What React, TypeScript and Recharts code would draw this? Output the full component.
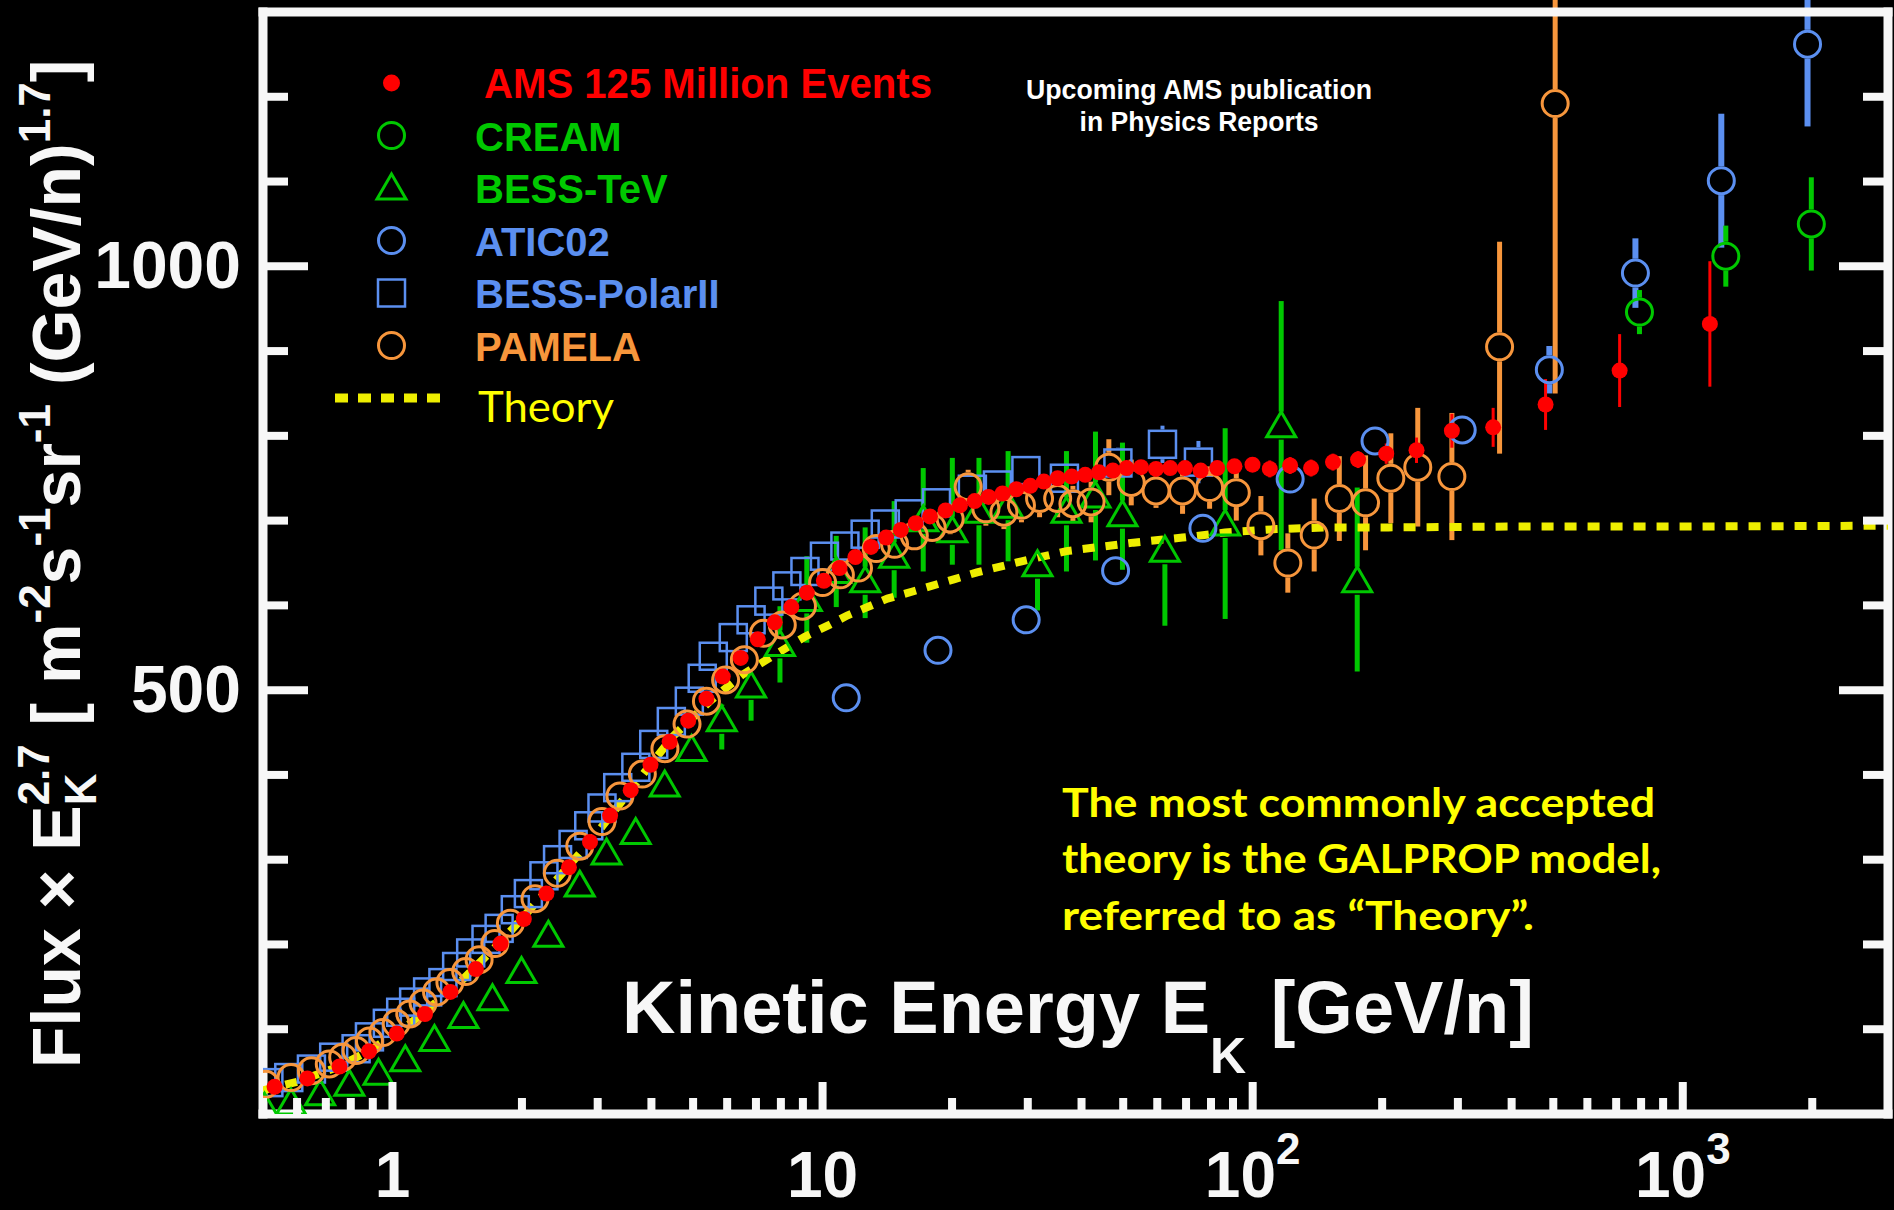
import React from "react";
import { ScatterChart, Scatter, XAxis, YAxis, ErrorBar, Legend, Customized } from "recharts";

const FONT = '"Liberation Sans", Arial, Helvetica, sans-serif';
const SLIDE_FONT = 'Lato, "Open Sans", sans-serif';
const WHITE = "#f7f7f7";
const RED = "#ff0000";
const GREEN = "#00c800";
const BLUE = "#5b8ff0";
const ORANGE = "#f7963c";
const YELLOW = "#ffff00";
const THEORY = "#eeee00";

// values: E in GeV/n, y = flux x E^2.7

// AMS 125 million events
const amsE = [0.532, 0.634, 0.753, 0.882, 1.023, 1.19, 1.364, 1.563, 1.783, 2.02, 2.28, 2.572, 2.879, 3.206, 3.58, 3.98, 4.41, 4.87, 5.37, 5.86, 6.45, 7.07, 7.74, 8.46, 9.19, 10.07, 10.95, 11.92, 12.96, 14.05, 15.2, 16.46, 17.77, 19.32, 20.86, 22.58, 24.32, 26.2, 28.2, 30.4, 32.7, 35.2, 37.95, 40.8, 43.9, 47.3, 50.9, 55.0, 59.6, 64.3, 69.6, 75.7, 82.7, 90.7, 99.9, 109.6, 122.2, 136.7, 153.7, 175.8, 204.4, 240.4, 290.5, 362.3, 479.7, 713.1, 1156];
const amsV = [32, 42, 56, 74, 95, 118, 144, 171, 201, 230, 260, 291, 321, 352, 382, 412, 439, 464, 490, 516, 538, 560, 580, 598, 615, 629, 644, 657, 669, 680, 689, 697, 705, 712, 718, 723, 728, 732, 737, 741, 746, 750, 752, 754, 757, 759, 762, 763, 761, 762, 762, 759, 762, 764, 766, 761, 765, 762, 769, 772, 779, 783, 806, 810, 837, 877, 932];
const amsErr = [2, 2, 2, 2, 2, 2, 2, 2, 2, 2, 2, 2, 2, 2, 2, 2, 2, 2, 2, 2, 2, 2, 2, 2, 2, 4, 4, 4, 4, 4, 4, 4, 4, 4, 4, 4, 4, 4, 4, 4, 4, 4, 4, 7, 7, 7, 7, 7, 7, 7, 7, 7, 7, 7, 7, 10, 10, 10, 10, 10, 12, 15, 20, 23, 30, 43, 74];

// CREAM
const creamE = [793, 1259, 1990];
const creamV = [946, 1012, 1050];
const creamErr = [26, 36, 55];

// BESS-TeV
const bessTevE = [0.504, 0.581, 0.679, 0.794, 0.928, 1.071, 1.252, 1.462, 1.708, 1.995, 2.304, 2.725, 3.146, 3.677, 4.295, 4.96, 5.83, 6.82, 7.96, 9.19, 10.76, 12.56, 14.67, 17.14, 20.03, 23.1, 27.0, 31.6, 36.9, 43.1, 49.8, 62.5, 86.3, 116.5, 175];
const bessTevV = [8, 13, 24, 35, 48, 64, 88, 115, 136, 168, 211, 270, 308, 332, 388, 430, 465, 505, 554, 607, 640, 629, 658, 701, 688, 711, 717, 648, 711, 729, 707, 665, 696, 812, 629];
const bessTevLo = [2, 2, 2, 2, 2, 2, 3, 3, 3, 3, 4, 5, 8, 10, 10, 13, 35, 41, 45, 51, 42, 44, 49, 61, 40, 63, 65, 54, 71, 76, 65, 89, 112, 147, 107];
const bessTevHi = [2, 2, 2, 2, 2, 2, 3, 3, 3, 3, 4, 5, 8, 10, 10, 13, 18, 16, 45, 51, 42, 63, 65, 61, 86, 63, 65, 12, 71, 76, 85, 14, 113, 147, 110];

// ATIC02
const aticE = [11.35, 18.55, 29.74, 48.0, 76.6, 122.2, 192.5, 307, 489.5, 776, 1229, 1950];
const aticV = [491, 547, 583, 641, 691, 749, 794, 807, 878, 992, 1101, 1262];
const aticErr = [3, 4, 5, 7, 9, 11, 13, 15, 28, 41, 79, 97];

// BESS-PolarII
const bessPolarE = [0.516, 0.574, 0.648, 0.73, 0.823, 0.884, 0.973, 1.045, 1.12, 1.207, 1.31, 1.41, 1.52, 1.65, 1.77, 1.93, 2.07, 2.25, 2.42, 2.63, 2.86, 3.07, 3.34, 3.68, 4.05, 4.45, 4.9, 5.25, 5.57, 6.2, 6.82, 7.5, 8.26, 9.1, 10.1, 11.27, 12.56, 13.99, 15.9, 18.4, 22.3, 25.5, 29.7, 36.5, 48.6, 61.7, 74.8];
const bessPolarV = [37, 43, 53, 67, 77, 91, 107, 120, 132, 144, 155, 174, 190, 206, 219, 241, 260, 281, 300, 318, 340, 361, 385, 409, 436, 463, 487, 514, 540, 562, 583, 605, 623, 640, 658, 670, 684, 696, 708, 721, 737, 742, 759, 750, 768, 790, 769];
const bessPolarErr = [3, 3, 3, 3, 3, 3, 3, 3, 3, 3, 3, 3, 3, 3, 3, 3, 3, 3, 3, 3, 3, 3, 3, 3, 3, 3, 3, 3, 3, 3, 3, 3, 3, 3, 5, 5, 5, 5, 5, 5, 8, 8, 10, 15, 18, 22, 25];

// PAMELA
const pamelaE = [0.507, 0.581, 0.648, 0.713, 0.766, 0.823, 0.884, 0.95, 1.02, 1.097, 1.178, 1.266, 1.36, 1.48, 1.59, 1.73, 1.88, 2.145, 2.417, 2.725, 3.07, 3.38, 3.81, 4.3, 4.84, 5.37, 5.95, 6.58, 7.29, 8.06, 8.98, 10.0, 11.0, 12.12, 13.33, 14.7, 16.34, 17.98, 19.8, 21.8, 23.97, 26.4, 29.0, 31.95, 35.2, 38.2, 42.1, 46.3, 52.2, 59.6, 68.7, 79.4, 91.6, 104.5, 120.7, 139, 159, 183, 209.5, 242, 290.5, 375, 505];
const pamelaV = [35, 43, 51, 59, 67, 75, 86, 96, 107, 118, 131, 144, 155, 168, 182, 201, 225, 254, 284, 316, 345, 375, 401, 431, 460, 487, 512, 536, 567, 577, 599, 627, 636, 644, 667, 672, 682, 692, 702, 740, 714, 710, 718, 726, 726, 720, 722, 763, 745, 735, 735, 739, 733, 694, 650, 683, 726, 721, 750, 763, 752, 905, 1192];
const pamelaLo = [3, 3, 3, 3, 3, 3, 3, 3, 3, 3, 3, 3, 3, 3, 3, 3, 3, 3, 3, 3, 3, 3, 3, 3, 3, 3, 3, 3, 3, 3, 6, 8, 10, 10, 12, 12, 14, 15, 18, 20, 20, 20, 20, 22, 22, 21, 24, 33, 27, 20, 27, 25, 33, 35, 35, 43, 50, 56, 53, 70, 75, 126, 342];
const pamelaHi = [3, 3, 3, 3, 3, 3, 3, 3, 3, 3, 3, 3, 3, 3, 3, 3, 3, 3, 3, 3, 3, 3, 3, 3, 3, 3, 3, 3, 3, 3, 6, 8, 10, 10, 12, 12, 14, 15, 18, 20, 20, 20, 20, 22, 22, 21, 24, 33, 27, 20, 27, 25, 33, 35, 35, 43, 50, 56, 53, 70, 75, 124, 150];

// GALPROP "Theory"
const theoryE = [0.5, 0.6, 0.75, 0.9, 1.1, 1.4, 1.8, 2.3, 2.9, 3.6, 4.5, 5.5, 6.5, 7.42, 9.09, 10.37, 11.41, 14.15, 16.34, 20.28, 22.86, 29.03, 36.9, 52.8, 68.7, 86.3, 113.7, 148, 206.9, 400, 1000, 3000];
const theoryV = [28, 38, 56, 77, 107, 150, 205, 265, 323, 384, 446, 488, 518, 536, 563, 577, 588, 608, 617, 631, 639, 652, 664, 674, 680, 686, 690, 692, 692, 693, 693, 694];

// axes
const xTicks = [0.5, 0.6, 0.7, 0.8, 0.9, 1, 2, 3, 4, 5, 6, 7, 8, 9, 10, 20, 30, 40, 50, 60, 70, 80, 90, 100, 200, 300, 400, 500, 600, 700, 800, 900, 1000, 2000, 3000];
const xMajor = [1, 10, 100, 1000];
const xLabelBase = ["1", "10", "10", "10"];
const xLabelExp = ["", "", "2", "3"];
const yTicks = [100, 200, 300, 400, 500, 600, 700, 800, 900, 1000, 1100, 1200];
const yMajor = [500, 1000];
const yLabels = ["500", "1000"];

const legendNames = ["AMS 125 Million Events", "CREAM", "BESS-TeV", "ATIC02", "BESS-PolarII", "PAMELA", "Theory"];
const legendColors = [RED, GREEN, GREEN, BLUE, BLUE, ORANGE, YELLOW];

type Row = { e: number; v: number; lo: number; hi: number };

const toRows = (e: number[], v: number[], lo: number[], hi: number[] = lo): Row[] =>
  e.map((x, i) => ({ e: x, v: v[i], lo: lo[i], hi: hi[i] }));

// error bars stop at the marker edge, like the original plot (gap is in y units)
const toBars = (rows: Row[], gap: number) =>
  rows.flatMap((r) => {
    const out: { e: number; v: number; err: number[] }[] = [];
    if (r.hi > gap) out.push({ e: r.e, v: r.v + gap, err: [0, r.hi - gap] });
    if (r.lo > gap) out.push({ e: r.e, v: r.v - gap, err: [r.lo - gap, 0] });
    return out;
  });

const ams = toRows(amsE, amsV, amsErr);
const cream = toRows(creamE, creamV, creamErr);
const bessTev = toRows(bessTevE, bessTevV, bessTevLo, bessTevHi);
const atic = toRows(aticE, aticV, aticErr);
const bessPolar = toRows(bessPolarE, bessPolarV, bessPolarErr);
const pamela = toRows(pamelaE, pamelaV, pamelaLo, pamelaHi);
const theory = theoryE.map((e, i) => ({ e, v: theoryV[i] }));

const frame = { stroke: WHITE, strokeWidth: 9, strokeLinecap: "square" as const };

const noMark = () => <g />;
const dot = (p: any) => <circle cx={p.cx} cy={p.cy} r={8} fill={RED} />;
const ring = (c: string) => (p: any) => <circle cx={p.cx} cy={p.cy} r={13} fill="none" stroke={c} strokeWidth={3} />;
const tri = (p: any) => (
  <path d={`M${p.cx},${p.cy - 14}L${p.cx + 14.5},${p.cy + 11}L${p.cx - 14.5},${p.cy + 11}Z`} fill="none" stroke={GREEN} strokeWidth={3} />
);
const sq = (p: any) => (
  <rect x={p.cx - 13.5} y={p.cy - 13.5} width={27} height={27} fill="none" stroke={BLUE} strokeWidth={2.5} />
);

const BottomTick = (p: any) => {
  const i = xMajor.indexOf(p.payload.value);
  return (
    <g>
      <line x1={p.x} x2={p.x} y1={p.y} y2={p.y - (i >= 0 ? 32 : 16)} stroke={WHITE} strokeWidth={8} />
      {i >= 0 && (
        <text x={p.x} y={p.y + 83} textAnchor="middle" fill={WHITE} fontFamily={FONT} fontWeight={700} fontSize={64}>
          {xLabelBase[i]}
          {xLabelExp[i] ? <tspan fontSize={44} dy={-33}>{xLabelExp[i]}</tspan> : null}
        </text>
      )}
    </g>
  );
};

const TopTick = (p: any) => {
  const major = xMajor.includes(p.payload.value);
  return <line x1={p.x} x2={p.x} y1={p.y} y2={p.y + (major ? 32 : 15)} stroke={WHITE} strokeWidth={8} />;
};

const LeftTick = (p: any) => {
  const i = yMajor.indexOf(p.payload.value);
  return (
    <g>
      <line x1={p.x} x2={p.x + (i >= 0 ? 45 : 25)} y1={p.y} y2={p.y} stroke={WHITE} strokeWidth={8} />
      {i >= 0 && (
        <text x={p.x - 22} y={p.y + 22} textAnchor="end" fill={WHITE} fontFamily={FONT} fontWeight={700} fontSize={66}>
          {yLabels[i]}
        </text>
      )}
    </g>
  );
};

const RightTick = (p: any) => {
  const major = yMajor.includes(p.payload.value);
  return <line x1={p.x} x2={p.x - (major ? 49 : 25)} y1={p.y} y2={p.y} stroke={WHITE} strokeWidth={8} />;
};

const LegendMarker = ({ i, y }: { i: number; y: number }) => {
  const c = legendColors[i];
  const x = 91.5;
  if (i === 0) return <circle cx={x} cy={y} r={8.5} fill={c} />;
  if (i === 2) return <path d={`M${x},${y - 14}L${x + 14.5},${y + 11}L${x - 14.5},${y + 11}Z`} fill="none" stroke={c} strokeWidth={3} />;
  if (i === 4) return <rect x={x - 13.5} y={y - 13.5} width={27} height={27} fill="none" stroke={c} strokeWidth={2.5} />;
  if (i === 6) return <line x1={35} x2={140} y1={y} y2={y} stroke={THEORY} strokeWidth={9} strokeDasharray="13 10" />;
  return <circle cx={x} cy={y} r={13} fill="none" stroke={c} strokeWidth={3} />;
};

const LegendBox = () => (
  <svg width={760} height={400} style={{ display: "block", overflow: "visible" }}>
    {legendNames.map((name, i) => {
      const y = 43 + i * 52.5;
      const theoryRow = i === 6;
      return (
        <g key={name}>
          <LegendMarker i={i} y={y} />
          <text
            x={i === 0 ? 184 : theoryRow ? 178 : 175}
            y={y + (theoryRow ? 24 : 15)}
            fill={legendColors[i]}
            fontFamily={theoryRow ? SLIDE_FONT : FONT}
            fontWeight={theoryRow ? 400 : 700}
            fontSize={i === 0 ? 42 : theoryRow ? 42 : 40}
            textLength={i === 0 ? 448 : theoryRow ? 136 : undefined}
            lengthAdjust="spacingAndGlyphs"
          >
            {name}
          </text>
        </g>
      );
    })}
  </svg>
);

const Annotations = () => (
  <g>
    <text transform="translate(80 1068) rotate(-90)" fill={WHITE} fontFamily={FONT} fontWeight={700} fontSize={68} style={{ whiteSpace: "pre" }}>
      <tspan>Flux × E</tspan>
      <tspan fontSize={44} dy={-31}>2.7</tspan>
      <tspan fontSize={44} dx={-61} dy={47}>K</tspan>
      <tspan dx={29} dy={-16}> [ m</tspan>
      <tspan fontSize={44} dy={-30}>-2</tspan>
      <tspan dy={30}>s</tspan>
      <tspan fontSize={44} dy={-30}>-1</tspan>
      <tspan dy={30}>sr</tspan>
      <tspan fontSize={44} dy={-30}>-1</tspan>
      <tspan dy={30}> (GeV/n)</tspan>
      <tspan fontSize={44} dy={-30}>1.7</tspan>
      <tspan dy={30}>]</tspan>
    </text>
    <text x={622} y={1033} fill={WHITE} fontFamily={FONT} fontWeight={700} fontSize={74} style={{ whiteSpace: "pre" }}>
      Kinetic Energy E<tspan fontSize={50} dy={40}>K</tspan><tspan dx={4} dy={-40}> [GeV/n]</tspan>
    </text>
    <text x={1199} y={99} textAnchor="middle" fill="#ffffff" fontFamily={FONT} fontWeight={700} fontSize={27} textLength={346} lengthAdjust="spacingAndGlyphs">
      Upcoming AMS publication
    </text>
    <text x={1199} y={131} textAnchor="middle" fill="#ffffff" fontFamily={FONT} fontWeight={700} fontSize={27} textLength={239} lengthAdjust="spacingAndGlyphs">
      in Physics Reports
    </text>
    <g fill={YELLOW} fontFamily={SLIDE_FONT} fontWeight={700} fontSize={40}>
      <text x={1062} y={817} textLength={593} lengthAdjust="spacingAndGlyphs">The most commonly accepted</text>
      <text x={1062} y={873} textLength={599} lengthAdjust="spacingAndGlyphs">theory is the GALPROP model,</text>
      <text x={1062} y={930} textLength={472} lengthAdjust="spacingAndGlyphs">referred to as “Theory”.</text>
    </g>
  </g>
);

export default function App() {
  return (
    <div style={{ position: "fixed", left: 0, top: 0, width: 1894, height: 1210, background: "#000" }}>
      <ScatterChart width={1894} height={1210} margin={{ top: 11, right: 5, bottom: 0, left: 0 }}>
        <XAxis xAxisId={0} dataKey="e" type="number" scale="log" domain={[0.5, 3000]} allowDataOverflow ticks={xTicks} interval={0} tickSize={0} tickMargin={0} height={96} axisLine={frame} tickLine={false} tick={BottomTick} />
        <XAxis xAxisId="top" orientation="top" type="number" scale="log" domain={[0.5, 3000]} allowDataOverflow ticks={xTicks} interval={0} tickSize={0} tickMargin={0} height={1} axisLine={frame} tickLine={false} tick={TopTick} />
        <YAxis yAxisId={0} dataKey="v" type="number" domain={[0, 1300]} allowDataOverflow ticks={yTicks} interval={0} tickSize={0} tickMargin={0} width={263} axisLine={frame} tickLine={false} tick={LeftTick} />
        <YAxis yAxisId="right" orientation="right" type="number" domain={[0, 1300]} allowDataOverflow ticks={yTicks} interval={0} tickSize={0} tickMargin={0} width={1} axisLine={frame} tickLine={false} tick={RightTick} />

        <Scatter name="Theory" data={theory} fill={THEORY} line={{ stroke: THEORY, strokeWidth: 8, strokeDasharray: "12 11" }} lineType="joint" shape={noMark} isAnimationActive={false} />

        <Scatter data={toBars(bessPolar, 17.5)} shape={noMark} isAnimationActive={false}>
          <ErrorBar dataKey="err" direction="y" width={0} stroke={BLUE} strokeWidth={4} isAnimationActive={false} />
        </Scatter>
        <Scatter name="BESS-PolarII" data={bessPolar} shape={sq} isAnimationActive={false} />

        <Scatter data={toBars(bessTev, 16.5)} shape={noMark} isAnimationActive={false}>
          <ErrorBar dataKey="err" direction="y" width={0} stroke={GREEN} strokeWidth={5} isAnimationActive={false} />
        </Scatter>
        <Scatter name="BESS-TeV" data={bessTev} shape={tri} isAnimationActive={false} />

        <Scatter data={toBars(atic, 17)} shape={noMark} isAnimationActive={false}>
          <ErrorBar dataKey="err" direction="y" width={0} stroke={BLUE} strokeWidth={6} isAnimationActive={false} />
        </Scatter>
        <Scatter name="ATIC02" data={atic} shape={ring(BLUE)} isAnimationActive={false} />

        <Scatter data={toBars(cream, 17)} shape={noMark} isAnimationActive={false}>
          <ErrorBar dataKey="err" direction="y" width={0} stroke={GREEN} strokeWidth={5} isAnimationActive={false} />
        </Scatter>
        <Scatter name="CREAM" data={cream} shape={ring(GREEN)} isAnimationActive={false} />

        <Scatter data={toBars(pamela, 17)} shape={noMark} isAnimationActive={false}>
          <ErrorBar dataKey="err" direction="y" width={0} stroke={ORANGE} strokeWidth={5} isAnimationActive={false} />
        </Scatter>
        <Scatter name="PAMELA" data={pamela} shape={ring(ORANGE)} isAnimationActive={false} />

        <Scatter data={toBars(ams, 0)} shape={noMark} isAnimationActive={false}>
          <ErrorBar dataKey="err" direction="y" width={0} stroke={RED} strokeWidth={3} isAnimationActive={false} />
        </Scatter>
        <Scatter name="AMS 125 Million Events" data={ams} shape={dot} isAnimationActive={false} />

        <Customized component={Annotations} />
        <Legend content={LegendBox} layout="vertical" align="center" verticalAlign="middle" wrapperStyle={{ left: 300, top: 40, width: 760, height: 400 }} />
      </ScatterChart>
    </div>
  );
}
